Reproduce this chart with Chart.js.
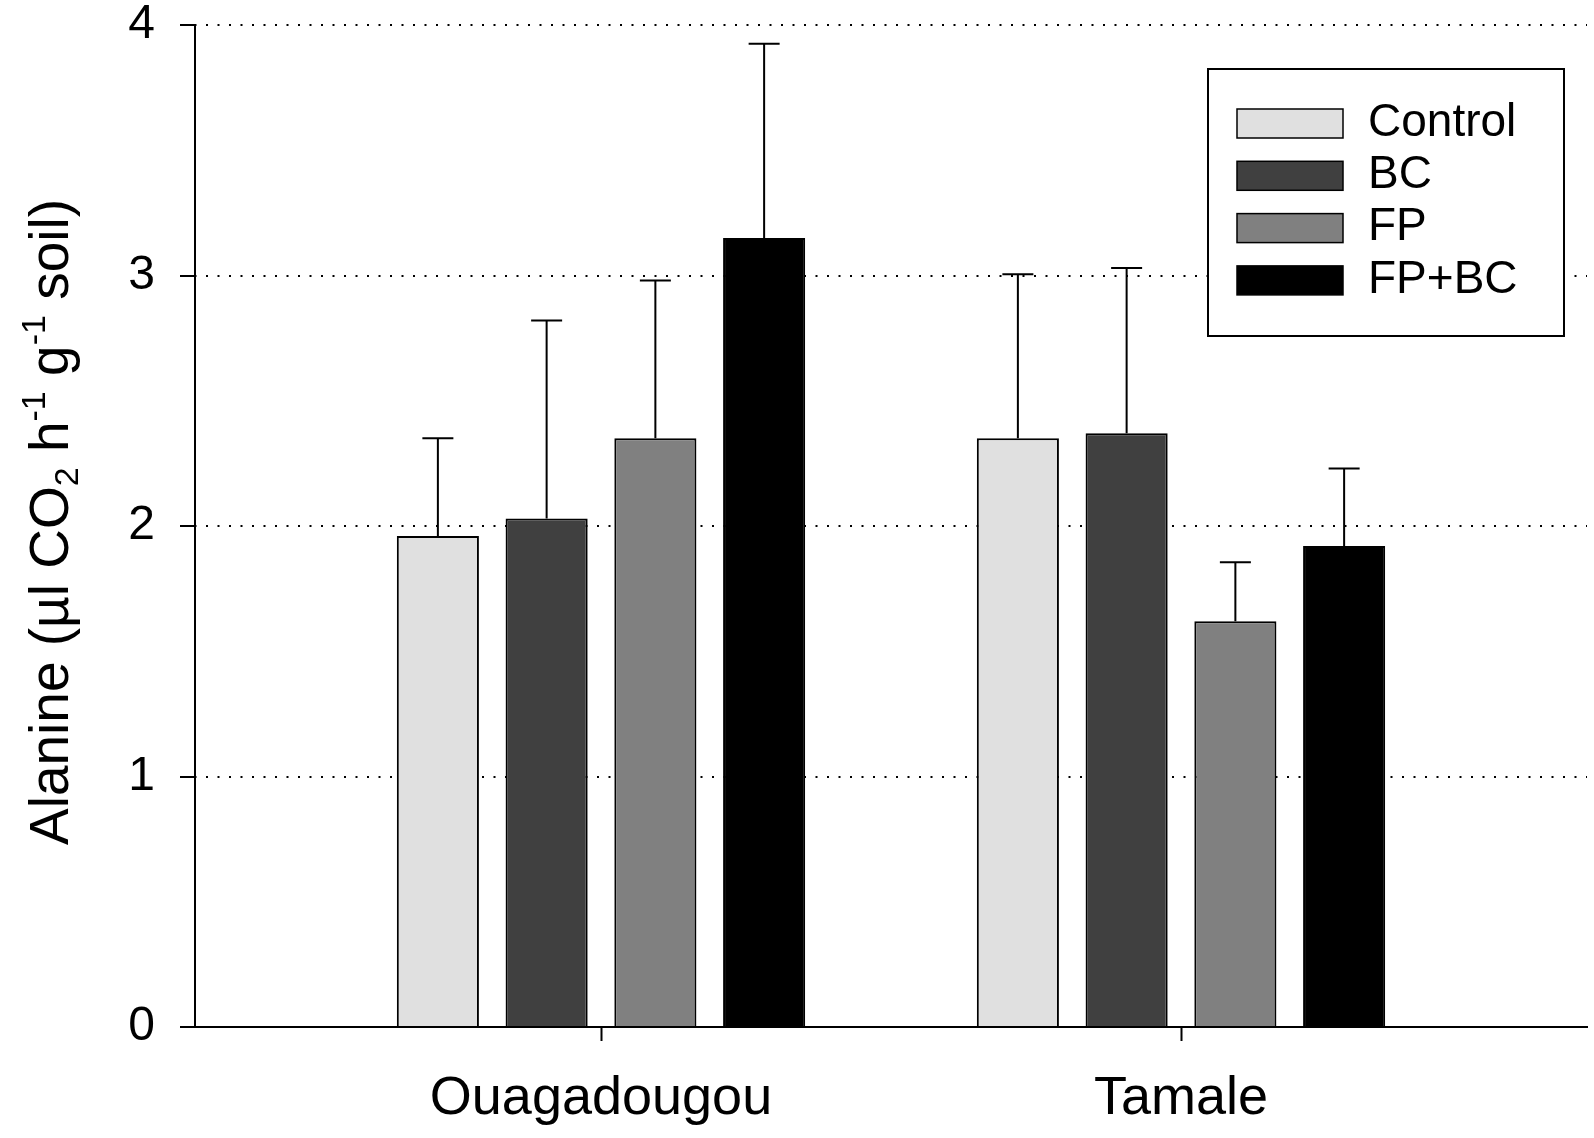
<!DOCTYPE html>
<html>
<head>
<meta charset="utf-8">
<script src="https://cdn.jsdelivr.net/npm/chart.js@4.4.0/dist/chart.umd.min.js"></script>
<style>
  html, body { margin: 0; padding: 0; background: #fff; }
  #wrap { width: 1594px; height: 1138px; position: relative; }
</style>
</head>
<body>
<div id="wrap"><canvas id="chart"></canvas></div>
<script>
// Sites (x categories) and treatments (series)
const sites = ['Ouagadougou', 'Tamale'];
const treatments = ['Control', 'BC', 'FP', 'FP+BC'];

// Means
const controlMeans = [1.96, 2.35];
const bcMeans = [2.03, 2.37];
const fpMeans = [2.35, 1.62];
const fpbcMeans = [3.15, 1.92];

// Upper error bar lengths
const controlErr = [0.39, 0.655];
const bcErr = [0.79, 0.66];
const fpErr = [0.63, 0.235];
const fpbcErr = [0.775, 0.31];

const yTicks = [0, 1, 2, 3, 4];
const fills = ['#e0e0e0', '#404040', '#808080', '#000000'];

// y axis title pieces: [text, kind] kind: n normal, sub, sup
const yTitleParts = [
    ['Alanine (\u00b5l CO', 'n'], ['2', 'sub'], [' h', 'n'], ['-1', 'sup'],
    [' g', 'n'], ['-1', 'sup'], [' soil)', 'n']
];

const FONT = '"Liberation Sans", Arial, Helvetica, sans-serif';

const means = [controlMeans, bcMeans, fpMeans, fpbcMeans];
const errs = [controlErr, bcErr, fpErr, fpbcErr];

/**
 * Barras de error (solo hacia arriba)
 */
const errorBars = {
    id: 'errorBars',
    afterDatasetsDraw(chart) {
        const ctx = chart.ctx;
        const y = chart.scales.y;
        chart.data.datasets.forEach((ds, i) => {
            const meta = chart.getDatasetMeta(i);
            meta.data.forEach((bar, j) => {
                const top = y.getPixelForValue(ds.data[j].y + ds.errors[j]);
                ctx.save();
                ctx.strokeStyle = '#000';
                ctx.lineWidth = 2;
                ctx.beginPath();
                ctx.moveTo(bar.x, bar.y);
                ctx.lineTo(bar.x, top);
                ctx.moveTo(bar.x - 15.5, top);
                ctx.lineTo(bar.x + 15.5, top);
                ctx.stroke();
                ctx.restore();
            });
        });
    }
};

/**
 * Leyenda con marco dentro del area del grafico
 */
const legendBox = {
    id: 'legendBox',
    afterDraw(chart) {
        const { ctx, chartArea } = chart;
        const w = 356, h = 267;
        const left = chartArea.right - 23 - w;
        const top = chartArea.top + 44;
        ctx.save();
        ctx.fillStyle = '#fff';
        ctx.fillRect(left, top, w, h);
        ctx.strokeStyle = '#000';
        ctx.lineWidth = 2;
        ctx.strokeRect(left, top, w, h);
        chart.data.datasets.forEach((ds, i) => {
            const sy = top + 40 + i * 52.3;
            ctx.fillStyle = ds.backgroundColor;
            ctx.fillRect(left + 29, sy, 106, 29);
            ctx.lineWidth = 1.5;
            ctx.strokeStyle = '#000';
            ctx.strokeRect(left + 29, sy, 106, 29);
            ctx.fillStyle = '#000';
            ctx.font = '46px ' + FONT;
            ctx.textBaseline = 'middle';
            ctx.textAlign = 'left';
            ctx.fillText(ds.label, left + 160, sy + 14);
        });
        ctx.restore();
    }
};

/**
 * Titulo del eje Y con subindices y superindices
 */
const yTitle = {
    id: 'yTitle',
    afterDraw(chart) {
        const { ctx, chartArea } = chart;
        const size = 55;
        const fontFor = k => (k === 'n' ? size : Math.round(size * 0.62)) + 'px ' + FONT;
        ctx.save();
        let total = 0;
        yTitleParts.forEach(([t, k]) => { ctx.font = fontFor(k); total += ctx.measureText(t).width; });
        ctx.translate(68, (chartArea.top + chartArea.bottom) / 2 - 4);
        ctx.rotate(-Math.PI / 2);
        ctx.fillStyle = '#000';
        ctx.textBaseline = 'alphabetic';
        ctx.textAlign = 'left';
        let x = -total / 2;
        yTitleParts.forEach(([t, k]) => {
            ctx.font = fontFor(k);
            const dy = k === 'sub' ? 10 : (k === 'sup' ? -23 : 0);
            ctx.fillText(t, x, dy);
            x += ctx.measureText(t).width;
        });
        ctx.restore();
    }
};

const datasets = treatments.map((name, i) => ({
    label: name,
    data: sites.map((s, j) => ({ x: j + 1, y: means[i][j] })),
    errors: errs[i],
    backgroundColor: fills[i],
    borderColor: '#000',
    borderWidth: 2,
    categoryPercentage: 0.75,
    barPercentage: 0.755
}));

new Chart(document.getElementById('chart'), {
    type: 'bar',
    data: { datasets: datasets },
    plugins: [errorBars, legendBox, yTitle],
    options: {
        responsive: true,
        maintainAspectRatio: false,
        animation: false,
        layout: { padding: { top: 25, right: 7, bottom: 0, left: 0 } },
        plugins: {
            legend: { display: false },
            tooltip: { enabled: false }
        },
        scales: {
            x: {
                type: 'linear',
                min: 0.3,
                max: 2.7,
                offset: false,
                afterBuildTicks: s => { s.ticks = sites.map((_, i) => ({ value: i + 1 })); },
                afterFit: s => { s.height = 111; s.paddingLeft = 0; s.paddingRight = 0; },
                ticks: {
                    callback: v => sites[v - 1],
                    font: { family: FONT, size: 54 },
                    color: '#000',
                    padding: 26,
                    maxRotation: 0,
                    autoSkip: false
                },
                grid: {
                    offset: false,
                    drawOnChartArea: false,
                    drawTicks: true,
                    tickLength: 14,
                    tickColor: '#000',
                    tickWidth: 2
                },
                border: { display: true, color: '#000', width: 2 }
            },
            y: {
                min: 0,
                max: 4,
                afterBuildTicks: s => { s.ticks = yTicks.map(v => ({ value: v })); },
                afterFit: s => { s.width = 195; s.paddingTop = 0; s.paddingBottom = 0; },
                ticks: {
                    font: { family: FONT, size: 48, lineHeight: 1 },
                    color: '#000',
                    padding: 25
                },
                grid: {
                    color: c => (c.tick && c.tick.value === 0 ? 'rgba(0,0,0,0)' : '#000'),
                    lineWidth: 2,
                    tickLength: 15,
                    tickColor: '#000',
                    tickWidth: 2
                },
                border: { display: true, color: '#000', width: 2, dash: [2, 9.5], dashOffset: 1.5 }
            }
        }
    }
});
</script>
</body>
</html>
